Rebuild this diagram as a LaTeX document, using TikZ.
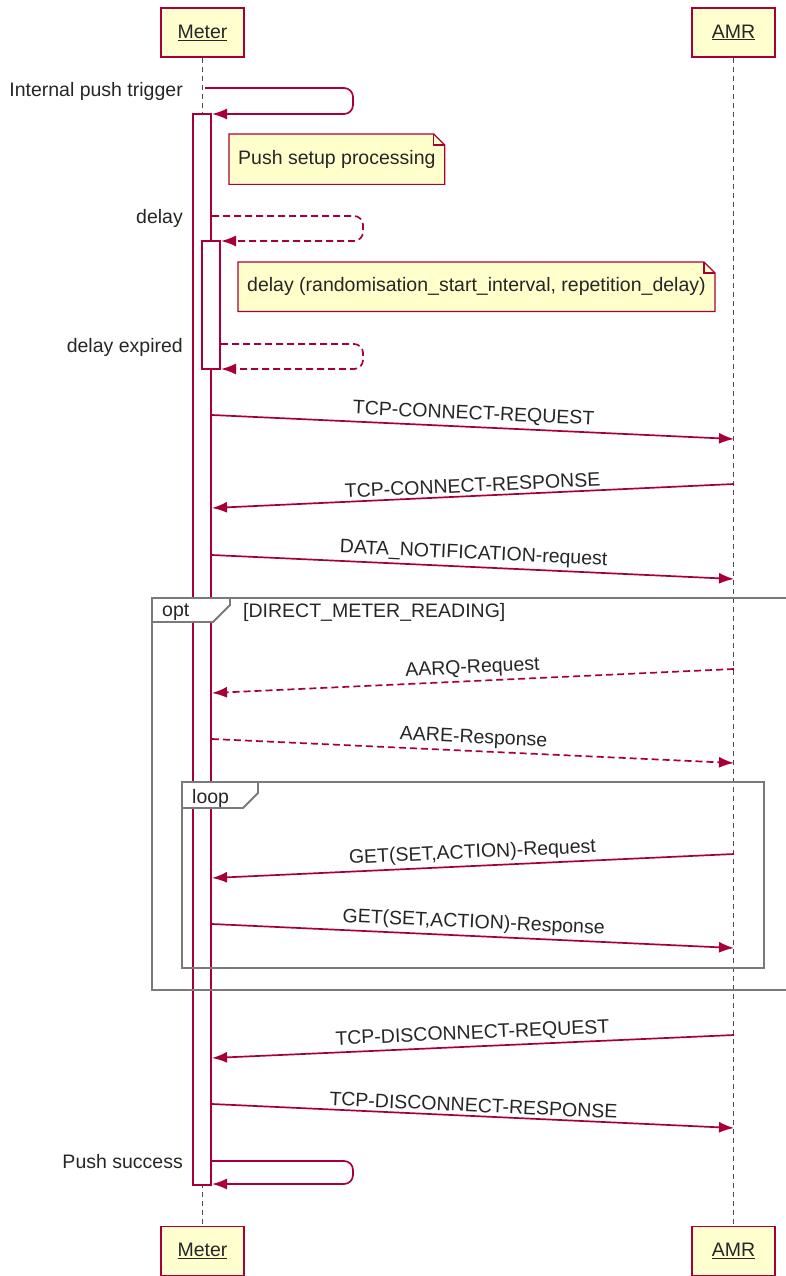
\documentclass[tikz,border=0pt]{standalone}
\usepackage{fontspec}
\setmainfont{Liberation Sans}
\usepackage{xcolor}
\usetikzlibrary{positioning,arrows.meta}
\definecolor{umlred}{HTML}{A80036}
\definecolor{umlfill}{HTML}{FEFECE}
\definecolor{notefill}{HTML}{FFFFCC}
\definecolor{framegray}{HTML}{7A7A7A}
\tikzset{
  basic/.style    = {font=\fontsize{19.5}{23}\selectfont, text=black!85},
  actor/.style    = {basic, draw=umlred, fill=umlfill, line width=1.5pt,
                     minimum width=83pt, minimum height=49pt, inner sep=0pt},
  lifeline/.style = {draw=black!70, line width=1.2pt, dash pattern=on 5pt off 4pt},
  activation/.style = {draw=umlred, fill=white, line width=1.3pt},
  msg/.style      = {draw=umlred, line width=1.7pt, -{Latex[length=15pt,width=11pt]}},
  reply/.style    = {msg, dash pattern=on 7pt off 4pt},
  self/.style     = {msg, rounded corners=9pt},
  lbl/.style      = {basic, midway, sloped, above=1pt, inner sep=2pt},
  selflbl/.style  = {basic, anchor=base east, inner sep=0pt},
  note/.style     = {basic, fill=notefill, anchor=north west, align=left,
                     inner xsep=9pt, minimum height=50pt},
  frame/.style    = {draw=framegray, line width=1.9pt},
  tab/.style      = {frame, fill=white},
  tag/.style      = {basic, anchor=base west, inner sep=0pt}
}
% outline of a note with its folded corner
\newcommand{\notefold}[1]{%
  \fill[white] ([xshift=-11pt]#1.north east) -- (#1.north east)
    -- ([yshift=-11pt]#1.north east) -- cycle;
  \draw[umlred, line width=1.2pt] (#1.south west) -- (#1.north west)
    -- ([xshift=-11pt]#1.north east) -- ([yshift=-11pt]#1.north east)
    -- (#1.south east) -- cycle;
  \draw[umlred, line width=1.2pt] ([xshift=-11pt]#1.north east)
    |- ([yshift=-11pt]#1.north east);
}

\begin{document}
\begin{tikzpicture}[x=1pt, y=-1pt]
\useasboundingbox (0,0) rectangle (785,1276);

% participants, top and bottom
\node[actor] (meterT) at (202.5,32.5) {\underline{Meter}};
\node[actor] (amrT)   at (733.5,32.5) {\underline{AMR}};
\node[actor] (meterB) at (202.5,1251) {\underline{Meter}};
\node[actor] (amrB)   at (733.5,1251) {\underline{AMR}};

% lifelines
\draw[lifeline] (meterT) -- (meterB);
\draw[lifeline] (amrT) -- (amrB);

% activations
\draw[activation] (193,114) rectangle (211,1185);
\draw[activation] (202,241) rectangle (220,369);

% self messages at the start
\coordinate (s1) at (205,88);  \coordinate (e1) at (212,114);
\coordinate (s2) at (212,216); \coordinate (e2) at (221,241);
\coordinate (s3) at (221,344); \coordinate (e3) at (221,369);
\draw[self] (s1) -- ++(148,0) |- (e1);
\node[selflbl] (l1) at (183,97) {Internal push trigger};
\draw[self, dash pattern=on 7pt off 4pt] (s2) -- ++(151,0) |- (e2);
\node[selflbl] (l2) at (183,223) {delay};
\draw[self, dash pattern=on 7pt off 4pt] (s3) -- ++(142,0) |- (e3);
\node[selflbl] (l3) at (183,352) {delay expired};

% notes
\node[note] (n1) at (229,134) {Push setup processing};
\notefold{n1}
\node[note, minimum height=49pt] (n2) at (238,262)
  {delay (randomisation\_start\_interval, repetition\_delay)};
\notefold{n2}

% connection and notification
\coordinate (m4) at (212,415);  \coordinate (a4) at (734,439);
\coordinate (a5) at (734,484);  \coordinate (m5) at (212,508);
\coordinate (m6) at (212,555);  \coordinate (a6) at (734,579);
\draw[msg] (m4) -- node[lbl] {TCP-CONNECT-REQUEST} (a4);
\draw[msg] (a5) -- node[lbl] {TCP-CONNECT-RESPONSE} (m5);
\draw[msg] (m6) -- node[lbl] {DATA\_NOTIFICATION-request} (a6);

% opt fragment
\draw[frame] (786,598) -- (152,598) -- (152,990) -- (786,990);
\draw[tab] (152,598) -- (152,622) -- (213,622) -- (230,605) -- (230,598) -- cycle;
\node[tag] (optT) at (162,616) {opt};
\node[tag] (optG) at (243,617) {[DIRECT\_METER\_READING]};

\coordinate (a7) at (734,669);  \coordinate (m7) at (212,693);
\coordinate (m8) at (212,739);  \coordinate (a8) at (734,763);
\draw[reply] (a7) -- node[lbl] {AARQ-Request} (m7);
\draw[reply] (m8) -- node[lbl] {AARE-Response} (a8);

% loop fragment
\draw[frame] (182,782) rectangle (764,968);
\draw[tab] (182,782) -- (182,808) -- (243,808) -- (258,793) -- (258,782) -- cycle;
\node[tag] (loopT) at (192,803) {loop};

\coordinate (a9) at (734,854);  \coordinate (m9) at (212,878);
\coordinate (m10) at (212,924); \coordinate (a10) at (734,948);
\draw[msg] (a9) -- node[lbl] {GET(SET,ACTION)-Request} (m9);
\draw[msg] (m10) -- node[lbl] {GET(SET,ACTION)-Response} (a10);

% disconnect
\coordinate (a11) at (734,1035); \coordinate (m11) at (212,1058);
\coordinate (m12) at (212,1104); \coordinate (a12) at (734,1128);
\draw[msg] (a11) -- node[lbl] {TCP-DISCONNECT-REQUEST} (m11);
\draw[msg] (m12) -- node[lbl] {TCP-DISCONNECT-RESPONSE} (a12);

% end of the push
\coordinate (s13) at (212,1161); \coordinate (e13) at (212,1184);
\draw[self] (s13) -- ++(141,0) |- (e13);
\node[selflbl] (l13) at (183,1168) {Push success};
\end{tikzpicture}
\end{document}
